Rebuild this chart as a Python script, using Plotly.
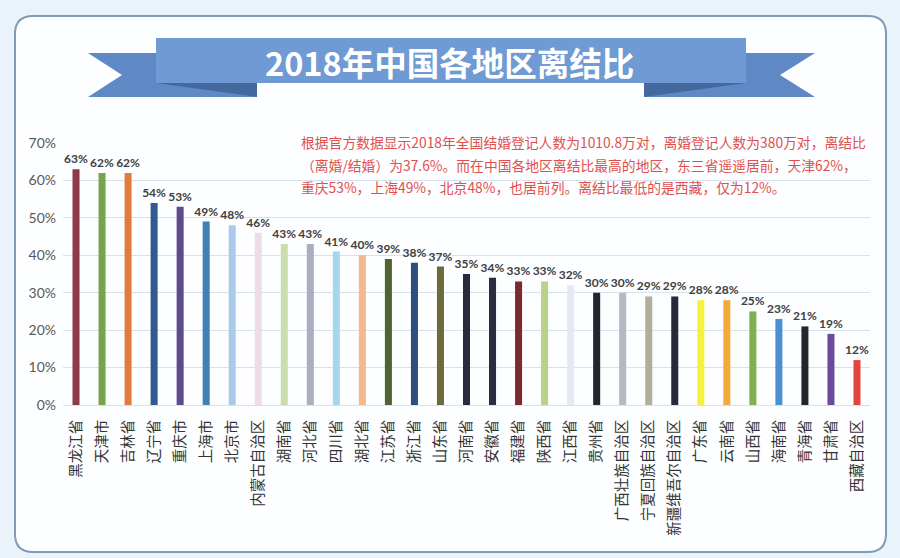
import plotly.graph_objects as go

regions = ["黑龙江省", "天津市", "吉林省", "辽宁省", "重庆市", "上海市", "北京市", "内蒙古自治区",
           "湖南省", "河北省", "四川省", "湖北省", "江苏省", "浙江省", "山东省", "河南省",
           "安徽省", "福建省", "陕西省", "江西省", "贵州省", "广西壮族自治区", "宁夏回族自治区",
           "新疆维吾尔自治区", "广东省", "云南省", "山西省", "海南省", "青海省", "甘肃省", "西藏自治区"]
ratios = [63, 62, 62, 54, 53, 49, 48, 46, 43, 43, 41, 40, 39, 38, 37, 35,
          34, 33, 33, 32, 30, 30, 29, 29, 28, 28, 25, 23, 21, 19, 12]
bar_colors = ["#8E3A48", "#79A24C", "#E27B3C", "#2F5B8E", "#5E4B8B", "#3F80B6", "#AACAEB", "#EEDCE5",
              "#C9DEAA", "#AAAFC0", "#A6D6EB", "#F5B78C", "#506432", "#2D4F7B", "#6C6C3B", "#272B3B",
              "#2B2E3E", "#7B2B30", "#B8D28C", "#E8E8F4", "#23262F", "#B6B9C3", "#B1AF99", "#272B39",
              "#F6F13C", "#F3AA3B", "#7EB04B", "#4B90D1", "#23262F", "#6B4B9B", "#E1453B"]
yticks = [0, 10, 20, 30, 40, 50, 60, 70]
title_text = "2018年中国各地区离结比"
note_lines = ["根据官方数据显示2018年全国结婚登记人数为1010.8万对，离婚登记人数为380万对，离结比",
              "（离婚/结婚）为37.6%。而在中国各地区离结比最高的地区，东三省遥遥居前，天津62%，",
              "重庆53%，上海49%，北京48%，也居前列。离结比最低的是西藏，仅为12%。"]

W, H = 900, 558
L, R, T, B = 63, 870, 143, 405


def px(x):
    return (x - L) / (R - L)


def py(y):
    return (B - y) / (B - T)


def poly(points):
    s = "M " + " L ".join(f"{px(x):.5f},{py(y):.5f}" for x, y in points) + " Z"
    return s


def rounded(x0, y0, x1, y1, r):
    p = lambda x, y: f"{px(x):.5f},{py(y):.5f}"
    return (f"M {p(x0 + r, y0)} L {p(x1 - r, y0)} Q {p(x1, y0)} {p(x1, y0 + r)} "
            f"L {p(x1, y1 - r)} Q {p(x1, y1)} {p(x1 - r, y1)} L {p(x0 + r, y1)} "
            f"Q {p(x0, y1)} {p(x0, y1 - r)} L {p(x0, y0 + r)} Q {p(x0, y0)} {p(x0 + r, y0)} Z")


fig = go.Figure()
fig.add_trace(go.Bar(
    x=regions, y=[v / 100 for v in ratios],
    marker=dict(color=bar_colors, line=dict(width=0)),
    width=0.27,
    text=[f"{v}%" for v in ratios], textposition="outside",
    textfont=dict(family="Lato", size=12, color="#404040", weight="bold"),
    constraintext="none", cliponaxis=False,
))

shapes = [
    dict(type="path", path=rounded(15, 16, 886, 552, 18), xref="paper", yref="paper",
         fillcolor="#FDFEFF", line=dict(color="#7F9BB6", width=2), layer="below"),
    dict(type="path", path=poly([(88, 53), (257, 53), (257, 97), (88, 97), (122, 75)]),
         xref="paper", yref="paper", fillcolor="#5F89C4", line=dict(width=0), layer="above"),
    dict(type="path", path=poly([(644, 53), (815, 53), (780, 75), (815, 97), (644, 97)]),
         xref="paper", yref="paper", fillcolor="#5F89C4", line=dict(width=0), layer="above"),
    dict(type="path", path=poly([(156, 83), (257, 83), (257, 97)]),
         xref="paper", yref="paper", fillcolor="#43699F", line=dict(width=0), layer="above"),
    dict(type="path", path=poly([(644, 83), (746, 83), (644, 97)]),
         xref="paper", yref="paper", fillcolor="#43699F", line=dict(width=0), layer="above"),
    dict(type="path", path=poly([(156, 38), (746, 38), (746, 83), (156, 83)]),
         xref="paper", yref="paper", fillcolor="#6F9AD4", line=dict(width=0), layer="above"),
]

annotations = [dict(x=px(449), y=py(61), xref="paper", yref="paper", text=title_text,
                    showarrow=False, xanchor="center", yanchor="middle",
                    font=dict(family="Noto Sans CJK SC", size=32.5, color="white", weight="bold"))]
for i, line in enumerate(note_lines):
    annotations.append(dict(x=px(299), y=py(142 + 22.5 * i), xref="paper", yref="paper", text=line,
                            showarrow=False, xanchor="left", yanchor="middle",
                            font=dict(family="Noto Sans CJK SC", size=13.8, color="#E0504E")))

fig.update_layout(
    width=W, height=H,
    margin=dict(l=L, r=W - R, t=T, b=H - B, pad=0),
    paper_bgcolor="#EAF3F9", plot_bgcolor="rgba(0,0,0,0)",
    showlegend=False, bargap=0.73,
    shapes=shapes, annotations=annotations,
    xaxis=dict(tickangle=-90,
               showgrid=False, showline=True, linecolor="#D6E3EE", linewidth=1, ticks="",
               tickfont=dict(family="Noto Sans CJK SC", size=14.5, color="#333333"),
               ticklabelstandoff=8, range=[-0.5, len(regions) - 0.5], fixedrange=True),
    yaxis=dict(range=[0, 0.7], tickvals=[v / 100 for v in yticks], ticktext=[f"{v}%" for v in yticks],
               showgrid=True, gridcolor="#D6E3EE", gridwidth=1, zeroline=False, showline=False,
               tickfont=dict(family="Lato", size=14, color="#595959"), ticks="",
               ticklabelstandoff=6, fixedrange=True),
)

fig.write_html("out.html", config={"displayModeBar": False},
               post_script="document.body.style.margin='0';")
